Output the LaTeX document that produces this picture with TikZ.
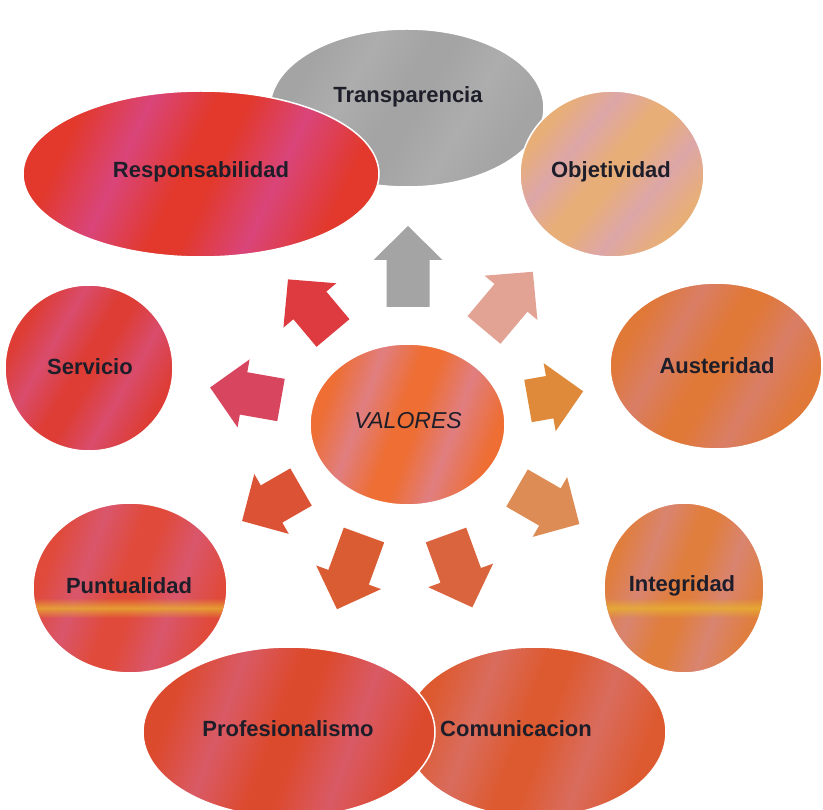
\documentclass[tikz,border=0pt]{standalone}
\usepackage{fontspec}
\setmainfont{Liberation Sans}
\usetikzlibrary{shapes.geometric,fadings}
\definecolor{txt}{HTML}{1E1E2A}
\definecolor{gA}{HTML}{A4A4A4}\definecolor{gB}{HTML}{ADADAD}
\definecolor{rA}{HTML}{E2392C}\definecolor{rB}{HTML}{D9457A}
\definecolor{oA}{HTML}{E8AE78}\definecolor{oB}{HTML}{DCA6A8}
\definecolor{auA}{HTML}{E07838}\definecolor{auB}{HTML}{D97E66}
\definecolor{sA}{HTML}{DD3D35}\definecolor{sB}{HTML}{D94C6C}
\definecolor{vA}{HTML}{EE6E33}\definecolor{vB}{HTML}{E07E80}
\definecolor{pA}{HTML}{E04A3A}\definecolor{pB}{HTML}{D9566C}
\definecolor{iA}{HTML}{E07E3E}\definecolor{iB}{HTML}{D98470}
\definecolor{prA}{HTML}{DC4A2E}\definecolor{prB}{HTML}{D95A66}
\definecolor{cA}{HTML}{DD5A30}\definecolor{cB}{HTML}{D96C5E}
\definecolor{yband}{HTML}{E8B030}
\definecolor{arA}{HTML}{E2A294}
\definecolor{arB}{HTML}{DE8A3A}
\definecolor{arC}{HTML}{DE8C55}
\definecolor{arD}{HTML}{D9643E}
\definecolor{arE}{HTML}{D95C32}
\definecolor{arF}{HTML}{DC5235}
\definecolor{arG}{HTML}{D8455E}
\definecolor{arH}{HTML}{DD3B40}
\newcommand\mkShade[3]{%
  \pgfdeclarehorizontalshading{#1}{100bp}{color(0bp)=(#2); color(27bp)=(#2);
    color(37bp)=(#3); color(47bp)=(#2); color(52bp)=(#2); color(62bp)=(#3);
    color(73bp)=(#2); color(100bp)=(#2)}}
\mkShade{shG}{gA}{gB}
\mkShade{shR}{rA}{rB}
\mkShade{shO}{oA}{oB}
\mkShade{shAu}{auA}{auB}
\mkShade{shS}{sA}{sB}
\mkShade{shV}{vA}{vB}
\mkShade{shP}{pA}{pB}
\mkShade{shI}{iA}{iB}
\mkShade{shPr}{prA}{prB}
\mkShade{shC}{cA}{cB}
\tikzfading[name=midband, top color=transparent!100, bottom color=transparent!100, middle color=transparent!20]
\newcommand\vArrow[5]{%
  \fill[fill=#5, shift={(#1,#2)}, rotate=#3]
    (0,-21.5) -- ({#4-34},-21.5) -- ({#4-34},-34.5) -- (#4,0) --
    ({#4-34},34.5) -- ({#4-34},21.5) -- (0,21.5) -- cycle;}
\begin{document}
\begin{tikzpicture}[x=1pt,y=-1pt,
  lbl/.style={font=\fontsize{22}{26}\selectfont\bfseries, text=txt, inner sep=0pt},
  bubble/.style={ellipse, draw=white, line width=1.5pt, inner sep=0pt},
]
\useasboundingbox (0,0) rectangle (823,810);
\clip (0,0) rectangle (823,810);
\fill[white] (0,0) rectangle (823,810);

% top group
\node[bubble, minimum width=274pt, minimum height=158pt,
  shading=shG, shading angle=-30] (trans) at (407,108) {};
\node[bubble, minimum width=356pt, minimum height=166pt,
  shading=shR, shading angle=-25] (resp) at (201,174) {};
\node[bubble, minimum width=184pt, minimum height=166pt,
  shading=shO, shading angle=-40] (obj) at (612,174) {};

% middle row
\node[bubble, minimum width=168pt, minimum height=166pt,
  shading=shS, shading angle=-30] (serv) at (89,368) {};
\node[bubble, minimum width=212pt, minimum height=166pt,
  shading=shAu, shading angle=-30] (aust) at (716,366) {};
\node[bubble, minimum width=195pt, minimum height=161pt,
  shading=shV, shading angle=-20] (valores) at (407.5,424.5) {};

% lower row
\node[bubble, minimum width=194pt, minimum height=170pt,
  shading=shP, shading angle=-20] (punt) at (130,588) {};
\begin{scope}
  \clip (130,588) ellipse [x radius=96pt, y radius=84pt];
  \fill[yband, path fading=midband] (30,598) rectangle (232,618);
\end{scope}
\node[bubble, minimum width=160pt, minimum height=170pt,
  shading=shI, shading angle=-20] (integ) at (684,588) {};
\begin{scope}
  \clip (684,588) ellipse [x radius=79pt, y radius=84pt];
  \fill[yband, path fading=midband] (600,598) rectangle (770,618);
\end{scope}

% bottom pair
\node[bubble, minimum width=262pt, minimum height=170pt,
  shading=shC, shading angle=-20] (comu) at (535,732) {};
\node[bubble, minimum width=292pt, minimum height=170pt,
  shading=shPr, shading angle=-20] (prof) at (289,732) {};

% arrows
\vArrow{408}{307}{90}{81}{gA}
\vArrow{484}{330}{50}{76}{arA}
\vArrow{528}{401}{10}{56}{arB}
\vArrow{517}{488}{-30}{72}{arC}
\vArrow{446}{535}{-70}{77}{arD}
\vArrow{364}{535}{-110}{79}{arE}
\vArrow{301}{487}{-150}{68}{arF}
\vArrow{281}{400}{170}{72}{arG}
\vArrow{333}{333}{130}{70}{arH}

% labels
\node[lbl] (tTrans) at (408,97) {Transparencia};
\node[lbl] (tResp) at (201,172) {Responsabilidad};
\node[lbl] (tObj) at (611,172) {Objetividad};
\node[lbl] (tServ) at (90,367) {Servicio};
\node[lbl] (tAust) at (717,366) {Austeridad};
\node[font=\fontsize{23}{27}\selectfont\itshape, text=txt, inner sep=0pt] (tVal) at (408,421) {VALORES};
\node[lbl] (tPunt) at (129,586) {Puntualidad};
\node[lbl] (tInteg) at (682,586) {Integridad};
\node[lbl] (tProf) at (288,729) {Profesionalismo};
\node[lbl] (tComu) at (516,729) {Comunicacion};
\end{tikzpicture}
\end{document}
